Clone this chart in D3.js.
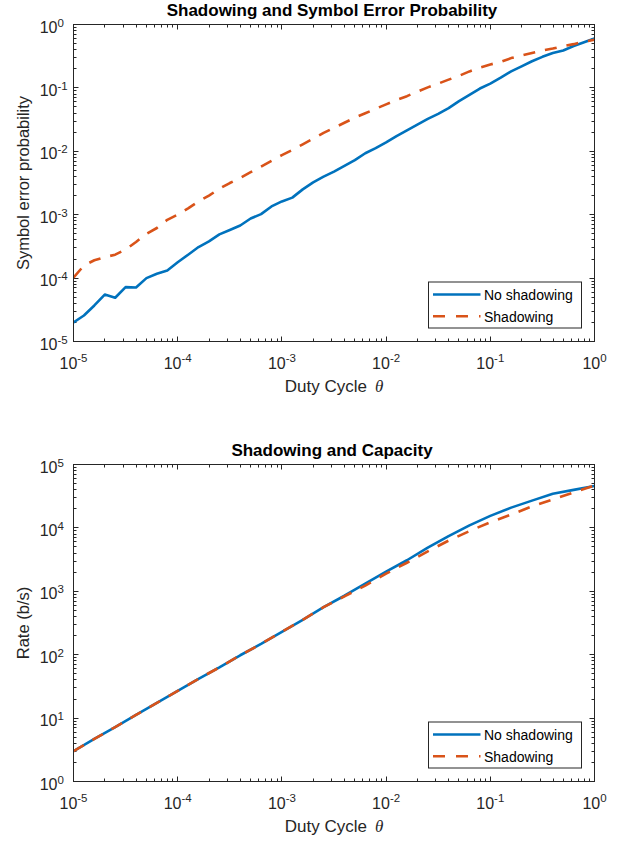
<!DOCTYPE html>
<html>
<head>
<meta charset="utf-8">
<script src="https://cdn.jsdelivr.net/npm/d3@7"></script>
<style>
  html, body { margin: 0; padding: 0; background: #fff; }
  svg { display: block; }
  text { font-family: "Liberation Sans", Arial, Helvetica, sans-serif; }
</style>
</head>
<body>
<svg id="chart" width="621" height="843"></svg>
<script>
// ---------------- data ----------------
const dutyCycleTop = [
  1e-5, 1.259e-5, 1.585e-5, 1.995e-5, 2.512e-5, 3.162e-5, 3.981e-5, 5.012e-5, 6.310e-5, 7.943e-5,
  1e-4, 1.259e-4, 1.585e-4, 1.995e-4, 2.512e-4, 3.162e-4, 3.981e-4, 5.012e-4, 6.310e-4, 7.943e-4,
  1e-3, 1.259e-3, 1.585e-3, 1.995e-3, 2.512e-3, 3.162e-3, 3.981e-3, 5.012e-3, 6.310e-3, 7.943e-3,
  1e-2, 1.259e-2, 1.585e-2, 1.995e-2, 2.512e-2, 3.162e-2, 3.981e-2, 5.012e-2, 6.310e-2, 7.943e-2,
  1e-1, 1.259e-1, 1.585e-1, 1.995e-1, 2.512e-1, 3.162e-1, 3.981e-1, 5.012e-1, 6.310e-1, 7.943e-1,
  1
];
const serNoShadowing = [
  2.0e-5, 2.57e-5, 3.7e-5, 5.5e-5, 4.9e-5, 7.2e-5, 7.1e-5, 1.0e-4, 1.17e-4, 1.32e-4,
  1.78e-4, 2.34e-4, 3.09e-4, 3.8e-4, 4.9e-4, 5.75e-4, 6.76e-4, 8.7e-4, 1.02e-3, 1.35e-3,
  1.62e-3, 1.86e-3, 2.51e-3, 3.24e-3, 3.98e-3, 4.79e-3, 5.89e-3, 7.24e-3, 9.33e-3, 1.12e-2,
  1.38e-2, 1.74e-2, 2.14e-2, 2.63e-2, 3.24e-2, 3.89e-2, 4.79e-2, 6.17e-2, 7.76e-2, 9.77e-2,
  0.117, 0.145, 0.182, 0.219, 0.263, 0.309, 0.355, 0.389, 0.457, 0.525,
  0.603
];
const serShadowing = [
  1.02e-4, 1.58e-4, 1.91e-4, 2.14e-4, 2.34e-4, 2.82e-4, 3.72e-4, 5.0e-4, 6.17e-4, 8.3e-4,
  1.0e-3, 1.26e-3, 1.62e-3, 2.0e-3, 2.57e-3, 3.16e-3, 3.8e-3, 4.68e-3, 5.75e-3, 7.08e-3,
  8.7e-3, 1.05e-2, 1.29e-2, 1.58e-2, 1.95e-2, 2.34e-2, 2.82e-2, 3.39e-2, 3.98e-2, 4.68e-2,
  5.5e-2, 6.46e-2, 7.41e-2, 8.7e-2, 0.102, 0.117, 0.135, 0.155, 0.182, 0.209,
  0.234, 0.257, 0.295, 0.324, 0.355, 0.389, 0.417, 0.457, 0.49, 0.537,
  0.575
];
const dutyCycleBottom = [
  1e-5, 1.585e-5, 2.512e-5, 3.981e-5, 6.310e-5,
  1e-4, 1.585e-4, 2.512e-4, 3.981e-4, 6.310e-4,
  1e-3, 1.585e-3, 2.512e-3, 3.981e-3, 6.310e-3,
  1e-2, 1.585e-2, 2.512e-2, 3.981e-2, 6.310e-2,
  1e-1, 1.585e-1, 2.512e-1, 3.981e-1, 6.310e-1,
  1
];
const rateNoShadowing = [
  3.0, 4.7, 7.2, 11.2, 17.4,
  26.9, 41.7, 63, 98, 148,
  229, 355, 562, 851, 1320,
  2040, 3090, 4900, 7410, 10960,
  15490, 20890, 26920, 34670, 39810,
  45710
];
const rateShadowing = [
  3.0, 4.7, 7.2, 11.2, 17.4,
  26.9, 41.7, 63, 98, 148,
  229, 355, 562, 832, 1230,
  1905, 2820, 4270, 6310, 8910,
  12300, 16220, 21880, 28180, 36310,
  46770
];
const xTickExponents = [-5, -4, -3, -2, -1, 0];
const yTickExponentsTop = [-5, -4, -3, -2, -1, 0];
const yTickExponentsBottom = [0, 1, 2, 3, 4, 5];
const seriesNames = ["No shadowing", "Shadowing"];
const seriesColors = ["#0072BD", "#D95319"];
const titleTop = "Shadowing and Symbol Error Probability";
const titleBottom = "Shadowing and Capacity";
const yLabelTop = "Symbol error probability";
const yLabelBottom = "Rate (b/s)";
const xLabelText = "Duty Cycle";
const xLabelSymbol = "θ";

// ---------------- drawing ----------------
const svg = d3.select("#chart");
const AX = "#262626";

function drawPanel(opt) {
  const g = svg.append("g");
  const x0 = 73.5, x1 = 594.5, y0 = opt.top, y1 = opt.bottom;
  const x = d3.scaleLog().domain([1e-5, 1]).range([x0, x1]);
  const y = d3.scaleLog().domain(opt.yDomain).range([y1, y0]);

  g.append("rect").attr("x", x0).attr("y", y0).attr("width", x1 - x0).attr("height", y1 - y0)
    .attr("fill", "#fff").attr("stroke", "none");

  // ticks (major + minor, inside, on all four sides)
  const isMajor = v => Math.abs(Math.log10(v) - Math.round(Math.log10(v))) < 1e-9;
  const tg = g.append("g").attr("stroke", AX).attr("stroke-width", 1);
  x.ticks().forEach(v => {
    const px = Math.round(x(v) - 0.5) + 0.5;
    const L = isMajor(v) ? 5 : 3;
    tg.append("line").attr("x1", px).attr("x2", px).attr("y1", y1).attr("y2", y1 - L);
    tg.append("line").attr("x1", px).attr("x2", px).attr("y1", y0).attr("y2", y0 + L);
  });
  y.ticks().forEach(v => {
    const py = Math.round(y(v) - 0.5) + 0.5;
    const L = isMajor(v) ? 5 : 3;
    tg.append("line").attr("x1", x0).attr("x2", x0 + L).attr("y1", py).attr("y2", py);
    tg.append("line").attr("x1", x1).attr("x2", x1 - L).attr("y1", py).attr("y2", py);
  });

  const clipId = "clip" + opt.id;
  svg.append("clipPath").attr("id", clipId).append("rect")
    .attr("x", x0).attr("y", y0 - 2).attr("width", x1 - x0 + 2).attr("height", y1 - y0 + 4);

  const line = d3.line().x(d => x(d[0])).y(d => y(d[1]));
  const lg = g.append("g").attr("clip-path", `url(#${clipId})`);
  opt.series.forEach((vals, i) => {
    const pts = opt.xs.map((xv, k) => [xv, vals[k]]);
    lg.append("path").attr("d", line(pts))
      .attr("fill", "none")
      .attr("stroke", seriesColors[i])
      .attr("stroke-width", 2.6)
      .attr("stroke-linejoin", "round")
      .attr("stroke-dasharray", i === 1 ? "12,10" : null);
  });

  g.append("rect").attr("x", x0).attr("y", y0).attr("width", x1 - x0).attr("height", y1 - y0)
    .attr("fill", "none").attr("stroke", AX).attr("stroke-width", 1);

  // x tick labels
  xTickExponents.forEach(e => {
    const t = g.append("text").attr("x", x(Math.pow(10, e))).attr("y", y1 + 27)
      .attr("text-anchor", "middle").attr("fill", AX).attr("font-size", 16);
    t.append("tspan").text("10");
    t.append("tspan").attr("font-size", 11.5).attr("dy", -6.5).text(String(e));
  });
  // y tick labels
  opt.yTicks.forEach(e => {
    const py = y(Math.pow(10, e));
    g.append("text").attr("x", x0 - 16).attr("y", py + 8).attr("text-anchor", "end")
      .attr("fill", AX).attr("font-size", 16).text("10");
    g.append("text").attr("x", x0 - 16).attr("y", py + 2).attr("text-anchor", "start")
      .attr("fill", AX).attr("font-size", 11.5).text(String(e));
  });

  // title
  g.append("text").attr("x", (x0 + x1) / 2 - 2).attr("y", y0 - 8.5).attr("text-anchor", "middle")
    .attr("font-weight", "bold").attr("font-size", 17).attr("fill", "#000").text(opt.title);

  // x label
  const xl = g.append("text").attr("x", (x0 + x1) / 2).attr("y", y1 + 50.5)
    .attr("text-anchor", "middle").attr("font-size", 17).attr("fill", AX);
  xl.append("tspan").text(xLabelText);
  xl.append("tspan").attr("dx", 8).attr("font-style", "italic")
    .attr("font-family", "'Liberation Serif', 'Times New Roman', serif").text(xLabelSymbol);

  // y label
  const cy = (y0 + y1) / 2;
  g.append("text").attr("transform", `translate(28.5,${cy}) rotate(-90)`)
    .attr("text-anchor", "middle").attr("font-size", 16.5).attr("fill", AX).text(opt.yLabel);

  // legend
  const lx = 428.5, ly = y1 - 59.5, lw = 153, lh = 46;
  const leg = g.append("g");
  leg.append("rect").attr("x", lx).attr("y", ly).attr("width", lw).attr("height", lh)
    .attr("fill", "#fff").attr("stroke", AX).attr("stroke-width", 1);
  seriesNames.forEach((name, i) => {
    const yy = ly + 12.5 + i * 21.7;
    leg.append("line").attr("x1", lx + 4.5).attr("x2", lx + 52).attr("y1", yy).attr("y2", yy)
      .attr("stroke", seriesColors[i]).attr("stroke-width", 2.6)
      .attr("stroke-dasharray", i === 1 ? "12,11" : null);
    leg.append("text").attr("x", lx + 55.5).attr("y", yy + 5.5).attr("font-size", 14)
      .attr("fill", "#000").text(name);
  });
}

drawPanel({
  id: "top", top: 24.5, bottom: 341.5, yDomain: [1e-5, 1],
  xs: dutyCycleTop, series: [serNoShadowing, serShadowing],
  yTicks: yTickExponentsTop, title: titleTop, yLabel: yLabelTop
});
drawPanel({
  id: "bottom", top: 464.5, bottom: 781.5, yDomain: [1, 1e5],
  xs: dutyCycleBottom, series: [rateNoShadowing, rateShadowing],
  yTicks: yTickExponentsBottom, title: titleBottom, yLabel: yLabelBottom
});
</script>
</body>
</html>
